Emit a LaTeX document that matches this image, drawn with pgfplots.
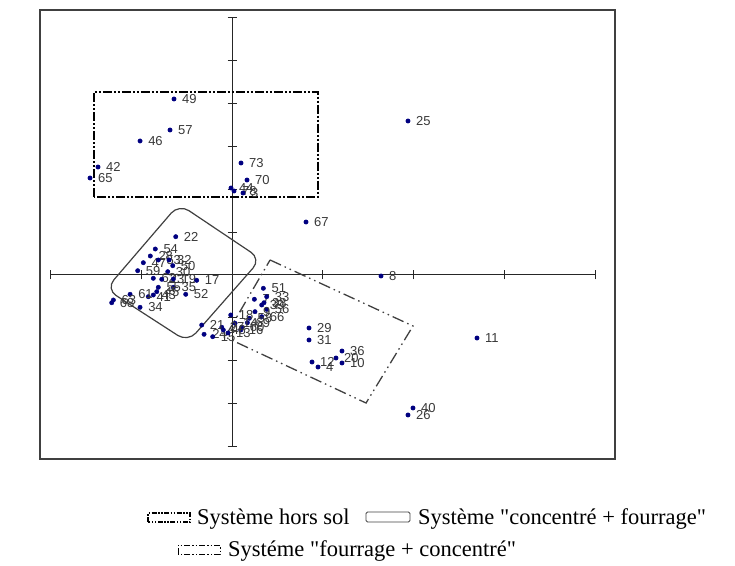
\documentclass[border=0pt]{standalone}
\usepackage{fontspec}
\setmainfont{Liberation Serif}[Ligatures=TeXOff]
\newfontfamily\labfont{Liberation Sans}
\usepackage{pgfplots}
\usepackage{pgfplotstable}
\pgfplotsset{compat=1.18}
\definecolor{ptcol}{HTML}{000080}
\definecolor{labcol}{HTML}{383838}
\definecolor{framecol}{HTML}{404040}

\pgfplotstableread{
x y label
-0.639 4.103 49
-0.683 3.380 57
-1.013 3.124 46
-1.476 2.517 42
-1.564 2.261 65
0.099 2.611 73
0.165 2.214 70
-0.011 2.028 44
0.022 1.958 78
0.121 1.911 3
1.938 3.590 25
0.815 1.235 67
1.641 -0.023 8
2.698 -1.469 11
1.993 -3.100 40
1.938 -3.263 26
0.848 -1.235 29
0.848 -1.515 31
1.211 -1.772 36
1.145 -1.935 20
1.211 -2.051 10
0.881 -2.028 12
0.947 -2.145 4
-0.620 0.893 22
-0.845 0.606 54
-0.900 0.443 28
-0.977 0.287 47
-1.039 0.100 59
-0.812 0.350 53
-0.694 0.350 32
-0.653 0.217 50
-0.708 0.077 30
-0.867 -0.077 62
-0.774 -0.100 23
-0.646 -0.093 19
-0.389 -0.124 17
-0.510 -0.450 52
-0.646 -0.287 35
-0.812 -0.287 55
-0.829 -0.389 45
-0.867 -0.466 43
-0.922 -0.506 41
-1.123 -0.450 61
-1.307 -0.583 63
-1.325 -0.646 68
-1.013 -0.753 34
0.345 -0.310 51
0.246 -0.566 7
0.382 -0.506 33
0.352 -0.646 38
0.327 -0.699 39
0.382 -0.800 56
0.253 -0.855 9
0.327 -0.972 66
0.191 -1.009 58
0.169 -1.112 69
0.107 -1.219 60
0.096 -1.282 16
0.033 -1.126 14
-0.014 -0.932 18
-0.113 -1.219 27
-0.334 -1.166 21
-0.308 -1.382 24
-0.213 -1.438 15
-0.096 -1.282 48
-0.044 -1.352 13
}\pts

\begin{document}
\begin{tikzpicture}[x=1pt,y=1pt]
\useasboundingbox (0,0) rectangle (735,565);
\begin{axis}[
  at={(40pt,106pt)}, anchor=south west,
  scale only axis, width=575pt, height=449pt,
  xmin=-2.115, xmax=4.218, ymin=-4.289, ymax=6.177,
  xtick=\empty, ytick=\empty,
  axis line style={draw=framecol, line width=1.2pt},
  clip=false,
]
% cross axes
\draw[line width=1pt, black!85] (axis cs:-2,0) -- (axis cs:4,0);
\draw[line width=1pt, black!85] (axis cs:0,-4) -- (axis cs:0,6);
\pgfplotsinvokeforeach{-2,-1,1,2,3,4}{
  \draw[line width=1pt, black!85] ([yshift=-4.5pt]axis cs:#1,0) -- ([yshift=4.5pt]axis cs:#1,0);
}
\pgfplotsinvokeforeach{-4,-3,-2,-1,1,2,3,4,5,6}{
  \draw[line width=1pt, black!85] ([xshift=-4.5pt]axis cs:0,#1) -- ([xshift=4.5pt]axis cs:0,#1);
}
% groups
\draw[line width=2.2pt, black, dash pattern=on 9pt off 2pt on 2pt off 2pt on 2pt off 2pt]
  (axis cs:-1.52,1.82) rectangle (axis cs:0.947,4.27);
\draw[line width=1.2pt, framecol, rounded corners=12pt]
  (axis cs:-0.584,1.655) -- (axis cs:0.319,0.373) -- (axis cs:-0.485,-1.562) -- (axis cs:-1.388,-0.326) -- cycle;
\draw[line width=1.3pt, framecol, dash pattern=on 12pt off 4pt on 1.5pt off 4pt on 1.5pt off 4pt]
  (axis cs:0.419,0.350) -- (axis cs:1.993,-1.189) -- (axis cs:1.476,-2.984) -- (axis cs:-0.077,-1.445) -- cycle;
% points
\addplot[only marks, mark=*, mark size=2.2pt, color=ptcol,
  nodes near coords, point meta=explicit symbolic,
  every node near coord/.append style={anchor=west, inner sep=0pt, xshift=8pt,
     font=\labfont\fontsize{13}{13}\selectfont, text=labcol}]
  table[x=x, y=y, meta=label] {\pts};
\end{axis}
% legend
\draw[line width=1.6pt, dash pattern=on 5pt off 1.5pt on 1.5pt off 1.5pt on 1.5pt off 1.5pt] (148,43) rectangle (190,52);
\node[anchor=base west, inner sep=0pt, font=\fontsize{22.5}{27}\selectfont] at (197,41) {Système hors sol};
\draw[line width=0.8pt, framecol, rounded corners=1.5pt] (366,43) rectangle (410,53);
\node[anchor=base west, inner sep=0pt, font=\fontsize{22.5}{27}\selectfont] at (418,41) {Système "concentré + fourrage"};
\draw[line width=1pt, dash pattern=on 6pt off 2pt on 1.5pt off 2pt on 1.5pt off 2pt] (178,11) rectangle (220,20);
\node[anchor=base west, inner sep=0pt, font=\fontsize{22.5}{27}\selectfont] at (228,9) {Systéme "fourrage + concentré"};
\end{tikzpicture}
\end{document}
